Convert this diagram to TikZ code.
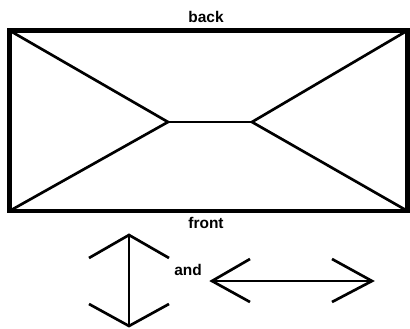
\documentclass[tikz,border=0pt]{standalone}
\usepackage{fontspec}
\setmainfont{Liberation Sans}
\usetikzlibrary{positioning}

\begin{document}
\begin{tikzpicture}[
  x=0.025cm, y=-0.025cm,
  frame/.style={line width=2.9pt},
  fold/.style={line width=1.9pt, line join=miter},
  label/.style={font=\fontsize{11}{13}\selectfont\bfseries, inner sep=0pt}
]
\useasboundingbox (0,0) rectangle (410,329);

% the box, seen from above
\draw[frame] (9.5,30.5) rectangle (407.5,211);
\coordinate (tl) at (9.5,30.5);
\coordinate (tr) at (407.5,30.5);
\coordinate (bl) at (9.5,211);
\coordinate (br) at (407.5,211);
\coordinate (cl) at (168,122);
\coordinate (cr) at (252,122);

\draw[fold] (tl) -- (cl) -- (bl);
\draw[fold] (tr) -- (cr) -- (br);
\draw[fold] (cl) -- (cr);

\node[label] (back) at (206,17) {back};
\node[label] (front) at (206,223) {front};

% directions
\coordinate (vtop) at (129,235);
\coordinate (vbot) at (129,326);
\draw[fold] (vtop) -- (vbot);
\draw[fold] (89,258) -- (vtop) -- (169,258);
\draw[fold] (89,304) -- (vbot) -- (169,304);

\node[label] (and) at (188,270) {and};

\coordinate (hleft) at (212,281);
\coordinate (hright) at (372,281);
\draw[fold] (hleft) -- (hright);
\draw[fold] (250,259) -- (hleft) -- (250,302);
\draw[fold] (332,259) -- (hright) -- (332,302);
\end{tikzpicture}
\end{document}
